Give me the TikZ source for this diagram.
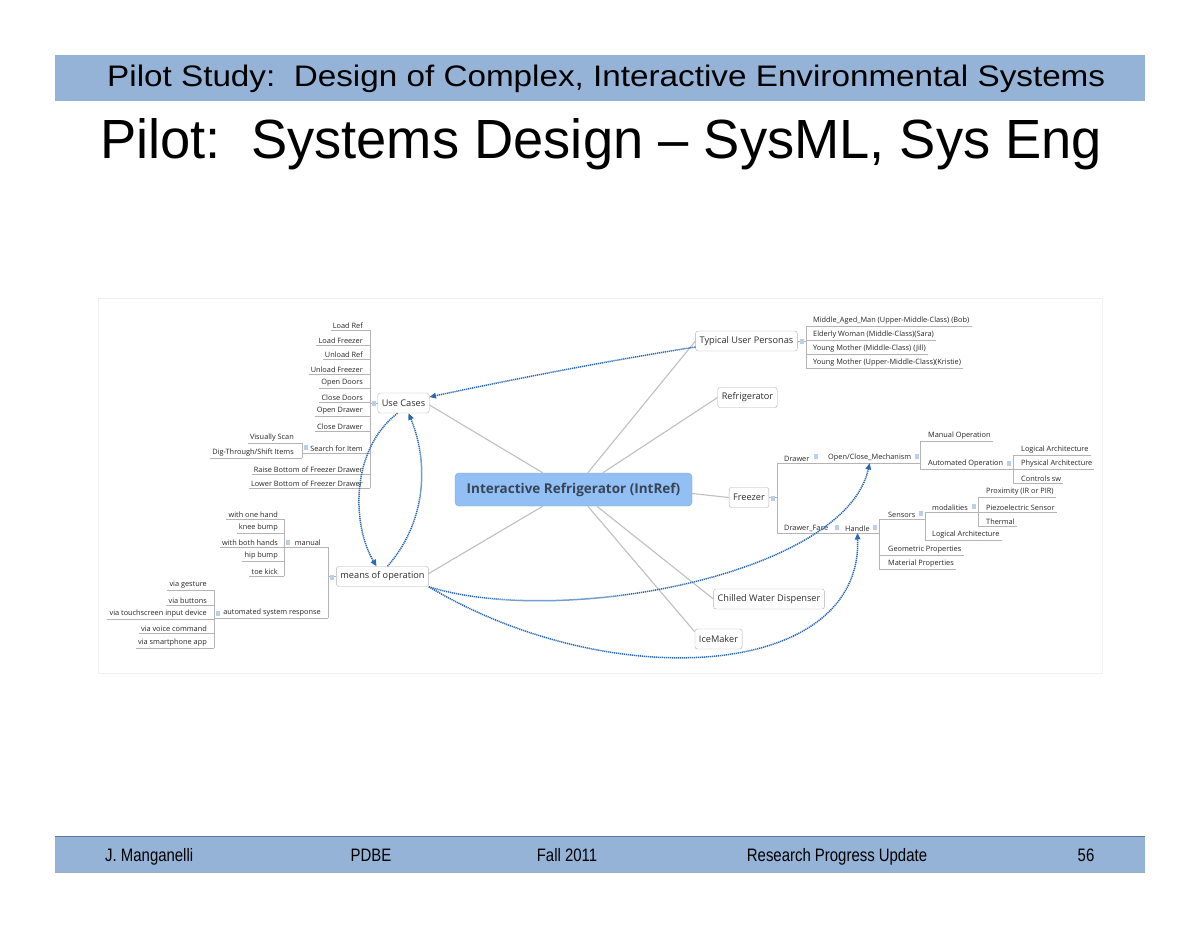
\documentclass[tikz,border=0pt]{standalone}
\usepackage{fontspec}
\usepackage{graphicx}
\setmainfont{Liberation Sans}
\newfontfamily\mmfont{Open Sans}
\usetikzlibrary{arrows.meta,calc}
\definecolor{band}{RGB}{149,179,215}
\definecolor{bandline}{RGB}{90,120,160}
\definecolor{cblue}{RGB}{146,192,244}
\definecolor{ctext}{RGB}{55,68,86}
\definecolor{dotblue}{RGB}{44,105,180}
\definecolor{knobc}{RGB}{188,206,232}
\definecolor{ulgray}{RGB}{180,180,180}
\definecolor{spokegray}{RGB}{192,192,192}
\newcommand{\ft}[1]{\scalebox{0.83}[1]{#1}}
\newcommand{\knob}[2]{\fill[knobc] (#1-2,#2-2.5) rectangle (#1+2,#2+2.5);}
\newcommand{\LL}[5]{\node[leaf,anchor=south east] (#1) at (#2,#3) {#5};\draw[ul] (#1.south west) -- (#1.south west -| #4);}
\newcommand{\RL}[5]{\node[leaf,anchor=south west] (#1) at (#2,#3) {#5};\draw[ul] (#1.south west -| #4) -- (#1.south east);}
\tikzset{
  leaf/.style={inner xsep=2pt, inner ysep=1.6pt, font=\mmfont\fontsize{7.35}{8}\selectfont, text=black!85},
  ul/.style={draw=ulgray, line width=0.8pt},
  topic/.style={draw=gray!60, fill=white, rounded corners=2.5pt, inner xsep=4pt, inner ysep=0pt, minimum height=20pt, font=\mmfont\fontsize{9.2}{11}\selectfont, text=black!82},
  central/.style={draw=cblue!85!black, fill=cblue, rounded corners=4pt, minimum width=237pt, minimum height=33pt, inner sep=0pt, font=\mmfont\bfseries\fontsize{13.5}{15}\selectfont, text=ctext},
  spoke/.style={draw=spokegray, line width=1.1pt},
  rel/.style={draw=dotblue, line width=1.5pt, dash pattern=on 1.2pt off 0.8pt, -{Triangle[length=6.5pt,width=5.5pt]}},
  foot/.style={inner sep=0pt, font=\fontsize{18}{20}\selectfont, text=black}
}
\begin{document}
\begin{tikzpicture}[x=1pt,y=-1pt]
\useasboundingbox (0,0) rectangle (1200,927);
\fill[white] (0,0) rectangle (1200,927);
% header
\fill[band] (55,55) rectangle (1145,101);
\node[anchor=base west, inner sep=0pt] (hdr) at (107,86) {\resizebox{998pt}{21.5pt}{Pilot Study:\ \ Design of Complex, Interactive Environmental Systems}};
\node[anchor=base west, inner sep=0pt] (ttl) at (100,158) {\resizebox{1002pt}{40pt}{Pilot:\ \ Systems Design – SysML, Sys Eng}};
% footer
\fill[band] (55,836) rectangle (1145,872);
\draw[bandline, line width=1pt] (55,836) -- (1145,836);
\draw[bandline!60, line width=0.6pt] (55,872) -- (1145,872);
\node[foot, anchor=base west] (f1) at (105,861) {\ft{J. Manganelli}};
\node[foot, anchor=base] (f2) at (371,861) {\ft{PDBE}};
\node[foot, anchor=base] (f3) at (567,861) {\ft{Fall 2011}};
\node[foot, anchor=base] (f4) at (837,861) {\ft{Research Progress Update}};
\node[foot, anchor=base] (f5) at (1086,861) {\ft{56}};
% mind map frame
\draw[gray!12, line width=0.8pt] (98,298) rectangle (1102,673);
% main nodes
\node[central] (C) at (573.5,489.5) {Interactive Refrigerator (IntRef)};
\node[topic] (UC) at (403.5,403) {Use Cases};
\node[topic] (TUP) at (746.5,341) {Typical User Personas};
\node[topic] (REF) at (747.5,397.5) {Refrigerator};
\node[topic] (FR) at (749,497.5) {Freezer};
\node[topic] (CWD) at (769,599) {Chilled Water Dispenser};
\node[topic] (ICE) at (718.5,639) {IceMaker};
\node[topic] (MO) at (382.5,576.5) {means of operation};
% spokes
\draw[spoke] ([xshift=88pt]C.north west) -- ([yshift=-2pt]UC.east);
\draw[spoke] ([xshift=133pt]C.north west) -- (TUP.west);
\draw[spoke] ([xshift=148pt]C.north west) -- (REF.west);
\draw[spoke] ([yshift=-4pt]C.east) -- (FR.west);
\draw[spoke] ([xshift=142pt]C.south west) -- (CWD.west);
\draw[spoke] ([xshift=133pt]C.south west) -- ([yshift=-3pt]ICE.north west);
\draw[spoke] ([xshift=88pt]C.south west) -- ([yshift=3pt]MO.east);
% Use Cases tree
\coordinate (vUC) at (370,403);
\LL{uc1}{365}{330}{vUC}{Load Ref}
\LL{uc2}{365}{345}{vUC}{Load Freezer}
\LL{uc3}{365}{359}{vUC}{Unload Ref}
\LL{uc4}{365}{374}{vUC}{Unload Freezer}
\LL{uc5}{365}{388}{vUC}{Open Doors}
\LL{uc6}{365}{402}{vUC}{Close Doors}
\LL{uc7}{365}{416}{vUC}{Open Drawer}
\LL{uc8}{365}{431}{vUC}{Close Drawer}
\node[leaf,anchor=south east] (si) at (365,453) {Search for Item};
\coordinate (vSI) at (302,450);
\draw[ul] (si.south -| vSI) -- (si.south -| vUC);
\LL{si1}{296}{443}{vSI}{Visually Scan}
\LL{si2}{296}{458}{vSI}{Dig-Through/Shift Items}
\draw[ul] (si1.south -| vSI) -- (si2.south -| vSI);
\knob{305.5}{447}
\LL{uc10}{365}{474}{vUC}{Raise Bottom of Freezer Drawer}
\LL{uc11}{365}{488}{vUC}{Lower Bottom of Freezer Drawer}
\draw[ul] (uc1.south -| vUC) -- (uc11.south -| vUC);
\draw[ul] (UC.west) -- (UC.west -| vUC);
\knob{373.5}{403}
% means of operation tree
\coordinate (vM) at (328,577);
\node[leaf,anchor=south east] (man) at (323,547) {manual};
\coordinate (vMan) at (284,547);
\draw[ul] (man.south -| vMan) -- (man.south -| vM);
\LL{m1}{280}{519}{vMan}{with one hand}
\LL{m2}{280}{533}{vMan}{knee bump}
\LL{m3}{280}{547}{vMan}{with both hands}
\LL{m4}{280}{561}{vMan}{hip bump}
\LL{m5}{280}{576}{vMan}{toe kick}
\draw[ul] (m1.south -| vMan) -- (m5.south -| vMan);
\knob{288}{542}
\node[leaf,anchor=south east] (aut) at (323,618) {automated system response};
\coordinate (vAut) at (214,618);
\draw[ul] (aut.south -| vAut) -- (aut.south -| vM);
\LL{a1}{209}{590}{vAut}{via gesture}
\LL{a2}{209}{605}{vAut}{via buttons}
\LL{a3}{209}{619}{vAut}{via touchscreen input device}
\LL{a4}{209}{633}{vAut}{via voice command}
\LL{a5}{209}{648}{vAut}{via smartphone app}
\draw[ul] (a1.south -| vAut) -- (a5.south -| vAut);
\knob{218}{613}
\draw[ul] (man.south -| vM) -- (aut.south -| vM);
\draw[ul] (MO.west) -- (MO.west -| vM);
\knob{332}{577}
% Typical User Personas tree
\coordinate (vT) at (806,341);
\RL{p1}{811}{326}{vT}{Middle\_Aged\_Man (Upper-Middle-Class) (Bob)}
\RL{p2}{811}{340}{vT}{Elderly Woman (Middle-Class)(Sara)}
\RL{p3}{811}{354}{vT}{Young Mother (Middle-Class) (Jill)}
\RL{p4}{811}{368}{vT}{Young Mother (Upper-Middle-Class)(Kristie)}
\draw[ul] (p1.south -| vT) -- (p4.south -| vT);
\draw[ul] (TUP.east) -- (TUP.east -| vT);
\knob{802}{341}
% Freezer tree
\coordinate (vF) at (777,498);
\node[leaf,anchor=south west] (dr) at (782,463) {Drawer};
\node[leaf,anchor=south west] (oc) at (826,463) {Open/Close\_Mechanism};
\coordinate (vOC) at (920,455);
\draw[ul] (dr.south -| vF) -- (oc.south -| vOC);
\knob{816}{456}
\knob{916.5}{456}
\RL{oc1}{926}{441}{vOC}{Manual Operation}
\node[leaf,anchor=south west] (ao) at (926,469) {Automated Operation};
\coordinate (vAO) at (1013,469);
\draw[ul] (ao.south -| vOC) -- (ao.south -| vAO);
\draw[ul] (oc1.south -| vOC) -- (ao.south -| vOC);
\knob{1008.5}{463}
\RL{ao1}{1019}{455}{vAO}{Logical Architecture}
\RL{ao2}{1019}{469}{vAO}{Physical Architecture}
\RL{ao3}{1019}{483}{vAO}{Controls sw}
\draw[ul] (ao1.south -| vAO) -- (ao3.south -| vAO);
\node[leaf,anchor=south west] (df) at (782,533) {Drawer\_Face};
\node[leaf,anchor=south west] (ha) at (843,533) {Handle};
\coordinate (vH) at (879,533);
\draw[ul] (df.south -| vF) -- (ha.south -| vH);
\knob{837}{527}
\knob{875}{527}
\node[leaf,anchor=south west] (se) at (886,519) {Sensors};
\coordinate (vS) at (925,519);
\draw[ul] (se.south -| vH) -- (se.south -| vS);
\knob{921}{513}
\node[leaf,anchor=south west] (mo) at (930,512) {modalities};
\coordinate (vMo) at (978,512);
\draw[ul] (mo.south -| vS) -- (mo.south -| vMo);
\knob{973.5}{506}
\RL{mo1}{984}{497}{vMo}{Proximity (IR or PIR)}
\RL{mo2}{984}{512}{vMo}{Piezoelectric Sensor}
\RL{mo3}{984}{526}{vMo}{Thermal}
\draw[ul] (mo1.south -| vMo) -- (mo3.south -| vMo);
\RL{se2}{930}{540}{vS}{Logical Architecture}
\draw[ul] (mo.south -| vS) -- (se2.south -| vS);
\RL{h2}{886}{555}{vH}{Geometric Properties}
\RL{h3}{886}{569}{vH}{Material Properties}
\draw[ul] (se.south -| vH) -- (h3.south -| vH);
\draw[ul] (dr.south -| vF) -- (df.south -| vF);
\draw[ul] (FR.east) -- (FR.east -| vF);
\knob{773}{498}
% relationships
\draw[rel] ([yshift=-6pt]TUP.west) .. controls (600,362) and (500,382) .. ([yshift=6pt]UC.east);
\draw[rel] ([xshift=-6pt]UC.south) .. controls (350,450) and (352,525) .. ([xshift=-6pt]MO.north);
\draw[rel] ([xshift=5pt]MO.north) .. controls (428,520) and (428,460) .. ([xshift=5pt]UC.south);
\draw[rel] (MO.south east) .. controls (560,628) and (845,575) .. (oc.south);
\draw[rel] (MO.south east) .. controls (610,695) and (862,680) .. (ha.south);
\end{tikzpicture}
\end{document}
